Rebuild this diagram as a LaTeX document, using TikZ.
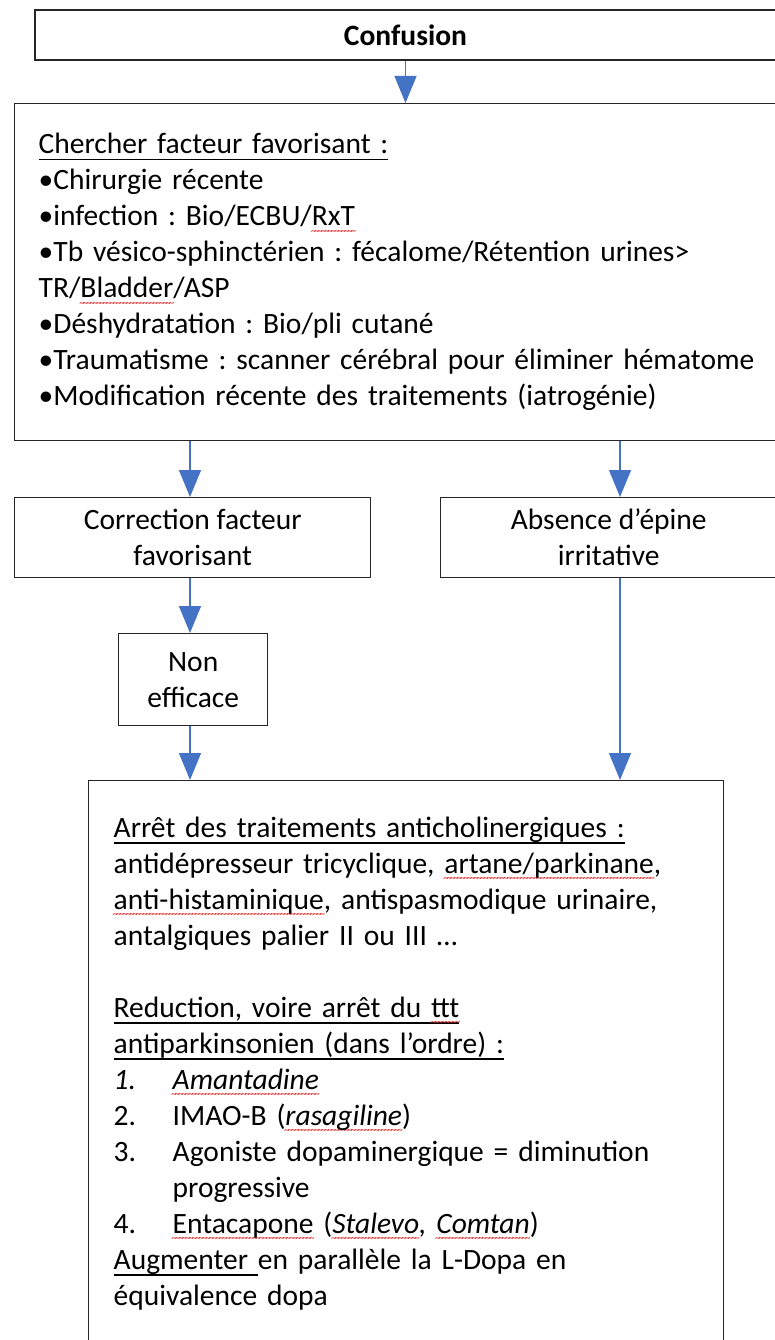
\documentclass[tikz,border=0pt]{standalone}
\usepackage{fontspec}
\setmainfont{Carlito}
\usetikzlibrary{arrows.meta}
\definecolor{flowblue}{RGB}{68,114,196}
\definecolor{spellred}{RGB}{225,40,40}
% underlined heading and red wavy mark of the spell checker
\newsavebox\spellbox
\newcommand\undl[1]{\leavevmode\sbox\spellbox{#1}\rlap{\rule[-6.5pt]{\wd\spellbox}{1.3pt}}\usebox\spellbox}
\newcommand\spellwave{\hbox{\fontsize{11}{11}\selectfont\kern-1.1pt\char"7E\kern-1.1pt}}
\newcommand\spellw[1]{\leavevmode\sbox\spellbox{#1}\rlap{\raisebox{-8.5pt}[0pt][0pt]{\hbox to \wd\spellbox{\color{spellred}\xleaders\spellwave\hfill}}}\usebox\spellbox}

\begin{document}
\begin{tikzpicture}[x=1pt,y=-1pt,
    box/.style={draw=black!85,line width=1.4pt},
    flow/.style={draw=flowblue,line width=1.3pt,-{Triangle[width=22pt,length=27pt]}},
    every node/.style={font=\fontsize{29.5}{36}\selectfont\frenchspacing}]
    \useasboundingbox (0,0) rectangle (775,1340);
    \coordinate (colL) at (190,0);
    \coordinate (colR) at (620,0);

    \node[box,minimum width=741pt,minimum height=50pt] (conf) at (405.5,35) {\bfseries Confusion};

    \node[box,anchor=north west,minimum width=770pt,minimum height=337pt,
          text width=722pt,inner xsep=24pt,align=left] (search) at (14,103) {%
        \undl{Chercher facteur favorisant :}\\
        •Chirurgie récente\\
        •infection : Bio/ECBU/\spellw{RxT}\\
        •Tb vésico-sphinctérien : fécalome/Rétention urines>\\
        TR/\spellw{Bladder}/ASP\\
        •Déshydratation : Bio/pli cutané\\
        •Traumatisme : scanner cérébral pour éliminer hématome\\
        •Modification récente des traitements (iatrogénie)};

    \node[box,anchor=north west,minimum width=356pt,minimum height=80pt,align=center] (corr) at (14,497) {Correction facteur\\favorisant};
    \node[box,anchor=north west,minimum width=336pt,minimum height=80pt,align=center] (absence) at (440,497) {Absence d’épine\\irritative};
    \node[box,anchor=north west,minimum width=149pt,minimum height=92pt,align=center] (nonef) at (118,633) {Non\\efficace};

    \node[box,anchor=north west,minimum width=635pt,minimum height=565pt,
          text width=585pt,inner xsep=25pt,align=left] (stop) at (88,780) {%
        \undl{Arrêt des traitements anticholinergiques :}\\
        antidépresseur tricyclique, \spellw{artane/parkinane},\\
        \spellw{anti-histaminique}, antispasmodique urinaire,\\
        antalgiques palier II ou III …\\[36pt]
        \undl{Reduction, voire arrêt du \spellw{ttt}}\\
        \undl{antiparkinsonien (dans l’ordre) :}\\
        \makebox[59pt][l]{\itshape 1.}\textit{\spellw{Amantadine}}\\
        \makebox[59pt][l]{2.}IMAO-B (\textit{\spellw{rasagiline}})\\
        \makebox[59pt][l]{3.}Agoniste dopaminergique = diminution\\
        \hspace*{59pt}progressive\\
        \makebox[59pt][l]{4.}\spellw{Entacapone} (\textit{\spellw{Stalevo}, \spellw{Comtan}})\\
        \undl{Augmenter\ }en parallèle la L-Dopa en\\
        équivalence dopa};

    \draw[flow] (conf.south) -- (search.north -| conf.south);
    \draw[flow] (search.south -| colL) -- (corr.north -| colL);
    \draw[flow] (search.south -| colR) -- (absence.north -| colR);
    \draw[flow] (corr.south -| colL) -- (nonef.north -| colL);
    \draw[flow] (nonef.south -| colL) -- (stop.north -| colL);
    \draw[flow] (absence.south -| colR) -- (stop.north -| colR);
\end{tikzpicture}
\end{document}
